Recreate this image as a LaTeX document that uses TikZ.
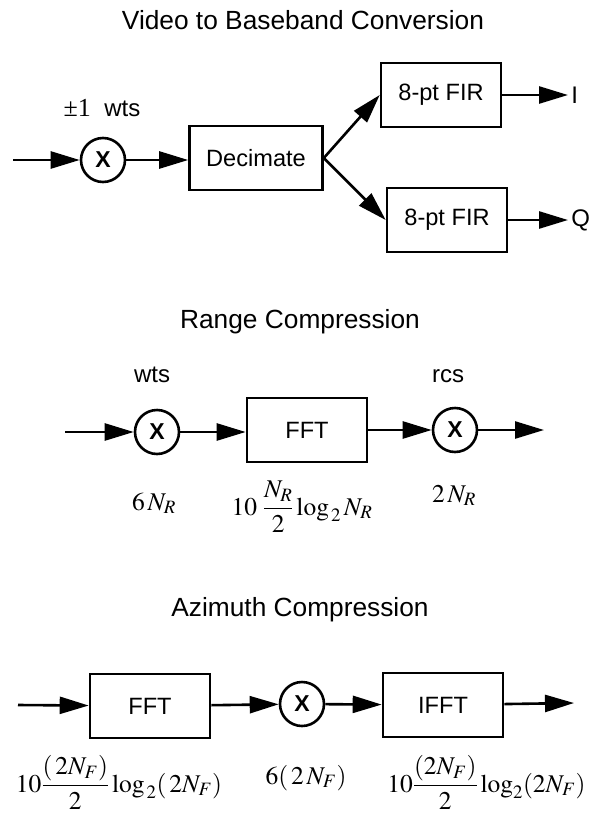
\documentclass[tikz,border=0pt]{standalone}
\usepackage{amsmath}
\usepackage{mathptmx}
\usepackage{fontspec}
\setmainfont{Liberation Serif}
\setsansfont{Liberation Sans}
\usetikzlibrary{arrows.meta, positioning}

\begin{document}
\begin{tikzpicture}[
			x=1pt, y=-1pt,
			line width=2.6pt,
			>={Triangle[length=29pt,width=17pt]},
			block/.style={draw,rectangle,minimum width=120pt,minimum height=64pt,font=\sffamily\fontsize{23.6}{27}\selectfont},
			mult/.style={draw,circle,minimum size=44pt,inner sep=0pt,font=\sffamily\bfseries\fontsize{23}{26}\selectfont},
			title/.style={font=\sffamily\fontsize{26.3}{30}\selectfont},
			lbl/.style={font=\sffamily\fontsize{24}{28}\selectfont},
			cost/.style={anchor=base,font=\fontsize{25.5}{30}\selectfont}
			]
			\useasboundingbox (0,0) rectangle (591,817);
			
			% video to baseband
			\node[title] (t1) at (303,20) {Video to Baseband Conversion};
			\coordinate (in1) at (13,160);
			\node[mult] (x1) at (103,160) {X};
			\node[block,minimum width=133pt] (dec) at (256,158) {Decimate};
			\node[block] (fir1) at (441,95) {8-pt FIR};
			\node[block] (fir2) at (447,220) {8-pt FIR};
			\node[lbl,anchor=west,inner sep=2pt] (I) at (568,95) {I};
			\node[lbl,anchor=west,inner sep=2pt] (Q) at (568,220) {Q};
			\node[lbl] at (102,108) {{\rmfamily\fontsize{26}{28}\selectfont ±1}\ \ wts};
			
			\draw[->] (in1) -- (x1);
			\draw[->] (x1) -- (x1 -| dec.west);
			\draw[->] (dec.east) -- (fir1.west);
			\draw[->] (dec.east) -- (fir2.west);
			\draw[->] (fir1) -- (I);
			\draw[->] (fir2) -- (Q);
			
			% range compression
			\node[title] (t2) at (300,322) {Range Compression};
			\coordinate (in2) at (65,432);
			\node[mult] (x2) at (157,432) {X};
			\node[block] (fft2) at (307,430) {FFT};
			\node[mult] (x3) at (455,430) {X};
			\coordinate (out2) at (544,430);
			\node[lbl] at (152,375) {wts};
			\node[lbl] at (448,376) {rcs};
			\node[cost] at (154,510) {$6\,N_R$};
			\node[cost] at (302,515) {$10\;\dfrac{N_R}{2}\log_{\,2} N_R$};
			\node[cost] at (454,502) {$2\,N_R$};
			
			\draw[->] (in2) -- (x2);
			\draw[->] (x2) -- (x2 -| fft2.west);
			\draw[->] (fft2) -- (x3);
			\draw[->] (x3) -- (out2);
			
			% azimuth compression
			\node[title] (t3) at (300,610) {Azimuth Compression};
			\coordinate (in3) at (18,705);
			\node[block] (fft3) at (150,706) {FFT};
			\node[mult] (x4) at (302,704) {X};
			\node[block] (ifft) at (443,705) {IFFT};
			\coordinate (out3) at (574,703);
			\node[cost] at (119,792) {$10\dfrac{(\,2N_F)}{2}\log_{\,2}(\,2N_F)$};
			\node[cost] at (306,784) {$6(\,2\,N_F)$};
			\node[cost,anchor=base west,inner sep=0pt] at (386,792) {$10\dfrac{(2N_F)}{2}\log_{2}(2N_F)$};
			
			\draw[->] (in3) -- (fft3);
			\draw[->] (fft3) -- (x4);
			\draw[->] (x4) -- (ifft);
			\draw[->] (ifft) -- (out3);
		\end{tikzpicture}
\end{document}
